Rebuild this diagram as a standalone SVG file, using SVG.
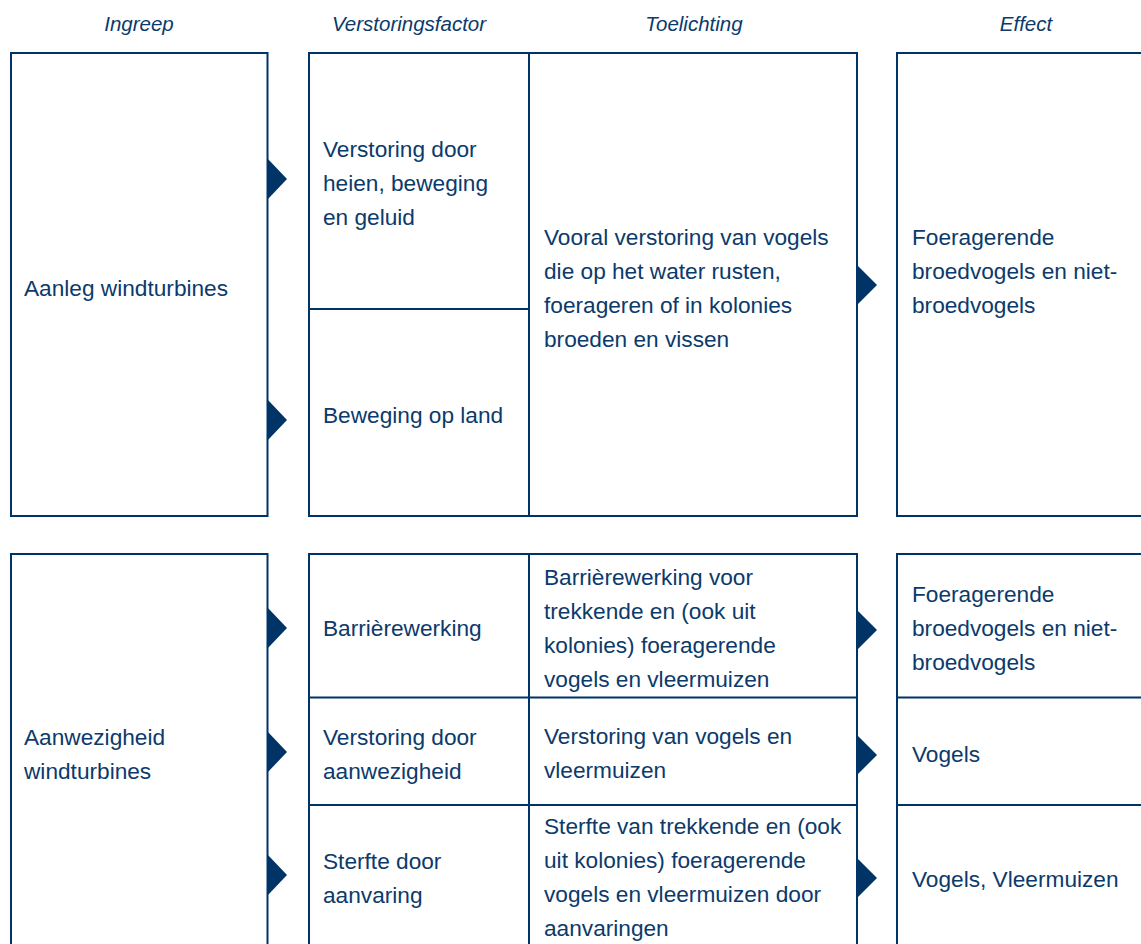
<svg xmlns="http://www.w3.org/2000/svg" width="1141" height="944" viewBox="0 0 1141 944">
<style>
.box{fill:#fff;stroke:#003366;stroke-width:2}
.ln{stroke:#003366;stroke-width:2;fill:none}
.t{font-family:"Liberation Sans",Arial,sans-serif;font-size:22.67px;fill:#0b3a6b}
.h{font-family:"Liberation Sans",Arial,sans-serif;font-size:20.5px;font-style:italic;fill:#0b3a6b;text-anchor:middle}
.arr{fill:#003366}
</style>
<rect width="1141" height="944" fill="#fff"/>
<g id="headers">
<text class="h" x="139" y="31">Ingreep</text>
<text class="h" x="409" y="31">Verstoringsfactor</text>
<text class="h" x="694" y="31">Toelichting</text>
<text class="h" x="1026" y="31">Effect</text>
</g>
<g id="aanleg">
<rect class="box" x="11" y="53" width="256.5" height="463"/>
<text class="t" x="24" y="296">Aanleg windturbines</text>
</g>
<g id="aanleg-factors">
<rect class="box" x="309" y="53" width="548" height="463"/>
<line class="ln" x1="529" y1="53" x2="529" y2="516"/>
<line class="ln" x1="309" y1="309" x2="529" y2="309"/>
</g>
<g id="verstoring-heien">
<text class="t" x="323" y="157">Verstoring door</text>
<text class="t" x="323" y="191">heien, beweging</text>
<text class="t" x="323" y="225">en geluid</text>
</g>
<g id="beweging-land">
<text class="t" x="323" y="423">Beweging op land</text>
</g>
<g id="toelichting-aanleg">
<text class="t" x="544" y="245">Vooral verstoring van vogels</text>
<text class="t" x="544" y="279">die op het water rusten,</text>
<text class="t" x="544" y="313">foerageren of in kolonies</text>
<text class="t" x="544" y="347">broeden en vissen</text>
</g>
<g id="effect-aanleg">
<rect class="box" x="897" y="53" width="300" height="463"/>
<text class="t" x="912" y="245">Foeragerende</text>
<text class="t" x="912" y="279">broedvogels en niet-</text>
<text class="t" x="912" y="313">broedvogels</text>
</g>
<g id="aanwezigheid">
<rect class="box" x="11" y="554" width="256.5" height="420"/>
<text class="t" x="24" y="745">Aanwezigheid</text>
<text class="t" x="24" y="779">windturbines</text>
</g>
<g id="aanwezigheid-factors">
<rect class="box" x="309" y="554" width="548" height="420"/>
<line class="ln" x1="529" y1="554" x2="529" y2="944"/>
<line class="ln" x1="309" y1="697.5" x2="857" y2="697.5"/>
<line class="ln" x1="309" y1="805" x2="857" y2="805"/>
</g>
<g id="barriere">
<text class="t" x="323" y="636">Barrièrewerking</text>
<text class="t" x="544" y="585">Barrièrewerking voor</text>
<text class="t" x="544" y="619">trekkende en (ook uit</text>
<text class="t" x="544" y="653">kolonies) foeragerende</text>
<text class="t" x="544" y="687">vogels en vleermuizen</text>
</g>
<g id="verstoring-aanwezigheid">
<text class="t" x="323" y="745">Verstoring door</text>
<text class="t" x="323" y="779">aanwezigheid</text>
<text class="t" x="544" y="744">Verstoring van vogels en</text>
<text class="t" x="544" y="778">vleermuizen</text>
</g>
<g id="sterfte">
<text class="t" x="323" y="869">Sterfte door</text>
<text class="t" x="323" y="903">aanvaring</text>
<text class="t" x="544" y="834">Sterfte van trekkende en (ook</text>
<text class="t" x="544" y="868">uit kolonies) foeragerende</text>
<text class="t" x="544" y="902">vogels en vleermuizen door</text>
<text class="t" x="544" y="936">aanvaringen</text>
</g>
<g id="effect-aanwezigheid">
<rect class="box" x="897" y="554" width="300" height="420"/>
<line class="ln" x1="897" y1="697.5" x2="1141" y2="697.5"/>
<line class="ln" x1="897" y1="805" x2="1141" y2="805"/>
<text class="t" x="912" y="602">Foeragerende</text>
<text class="t" x="912" y="636">broedvogels en niet-</text>
<text class="t" x="912" y="670">broedvogels</text>
<text class="t" x="912" y="762">Vogels</text>
<text class="t" x="912" y="887">Vogels, Vleermuizen</text>
</g>
<g id="connectors">
<path class="arr" d="M267,158 L287,179 L267,200 Z"/>
<path class="arr" d="M267,399 L287,420 L267,441 Z"/>
<path class="arr" d="M856,264 L877,285 L856,306 Z"/>
<path class="arr" d="M267,607 L287,628 L267,649 Z"/>
<path class="arr" d="M267,731 L287,752 L267,773 Z"/>
<path class="arr" d="M267,854 L287,875 L267,896 Z"/>
<path class="arr" d="M856,609 L877,630 L856,651 Z"/>
<path class="arr" d="M856,734 L877,755 L856,776 Z"/>
<path class="arr" d="M856,857 L877,878 L856,899 Z"/>
</g>
</svg>
